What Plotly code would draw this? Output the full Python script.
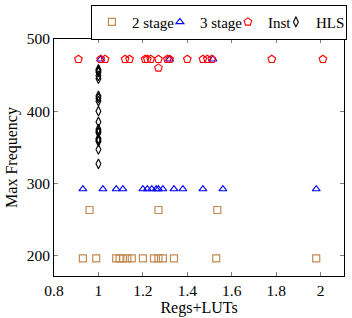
import plotly.graph_objects as go

# ---- data ----
stage2_x = [0.96, 1.27, 1.535,
            0.93, 0.99, 1.08, 1.095, 1.11, 1.13, 1.15, 1.20, 1.25, 1.27, 1.29, 1.34, 1.53, 1.98]
stage2_y = [263, 263, 263,
            196, 196, 196, 196, 196, 196, 196, 196, 196, 196, 196, 196, 196, 196]

stage3_x = [0.93, 1.02, 1.08, 1.11, 1.20, 1.22, 1.24, 1.26, 1.27, 1.29, 1.34, 1.38, 1.47, 1.56, 1.98,
            1.01, 1.32, 1.515]
stage3_y = [292] * 15 + [472, 472, 472]

inst_x = [0.91, 1.01, 1.03, 1.12, 1.14, 1.21, 1.22, 1.235, 1.27, 1.31, 1.32, 1.40, 1.47, 1.49, 1.51,
          1.78, 2.01, 1.27]
inst_y = [472] * 17 + [460]

hls_x = [1.0] * 18
hls_y = [458, 454, 449, 445, 421, 418, 414, 400, 385, 375, 372, 370, 362, 360, 358, 347, 327, 456]

FONT = "Liberation Serif"
FS = 15.5
LFS = 15

fig = go.Figure()
fig.add_trace(go.Scatter(x=stage2_x, y=stage2_y, mode="markers", name="2 stage", legendwidth=23,
                         marker=dict(symbol="square-open", size=7, color="#c48a50",
                                     line=dict(width=1.2, color="#c48a50"))))
fig.add_trace(go.Scatter(x=stage3_x, y=stage3_y, mode="markers", name="3 stage", legendwidth=23,
                         marker=dict(symbol="triangle-up-open", size=7, color="#0000ff",
                                     line=dict(width=1.1, color="#0000ff"))))
fig.add_trace(go.Scatter(x=inst_x, y=inst_y, mode="markers", name="Inst", legendwidth=3,
                         marker=dict(symbol="pentagon-open", size=8, color="#ff0000",
                                     line=dict(width=1.1, color="#ff0000"))))
fig.add_trace(go.Scatter(x=hls_x, y=hls_y, mode="markers", name="HLS", legendwidth=25,
                         marker=dict(symbol="diamond-tall-open", size=7, color="#000000",
                                     line=dict(width=1.1, color="#000000"))))

axis_common = dict(showline=True, linecolor="black", linewidth=1, mirror="ticks",
                   ticks="inside", ticklen=4, tickcolor="#808080", showgrid=False,
                   zeroline=False, tickfont=dict(family=FONT, size=FS, color="black"))

fig.update_xaxes(range=[0.8, 2.105], tickvals=[0.8, 1.0, 1.2, 1.4, 1.6, 1.8, 2.0],
                 ticktext=["0.8", "1", "1.2", "1.4", "1.6", "1.8", "2"],
                 title=dict(text="Regs+LUTs", font=dict(family=FONT, size=16, color="black"),
                            standoff=3),
                 **axis_common)
fig.update_yaxes(range=[171.5, 500], tickvals=[200, 300, 400, 500],
                 title=dict(text="Max Frequency", font=dict(family=FONT, size=16, color="black"),
                            standoff=5),
                 **axis_common)

fig.update_layout(
    width=352, height=318,
    margin=dict(l=54, r=5, t=33, b=40),
    plot_bgcolor="white", paper_bgcolor="white",
    font=dict(family=FONT, size=FS, color="black"),
    legend=dict(orientation="h", x=1.01, xanchor="right", y=1.145, yanchor="top",
                bordercolor="black", borderwidth=1, bgcolor="white",
                font=dict(family=FONT, size=LFS), itemwidth=30,
                tracegroupgap=0, itemclick=False),
    showlegend=True,
)

fig.write_html("out.html")
